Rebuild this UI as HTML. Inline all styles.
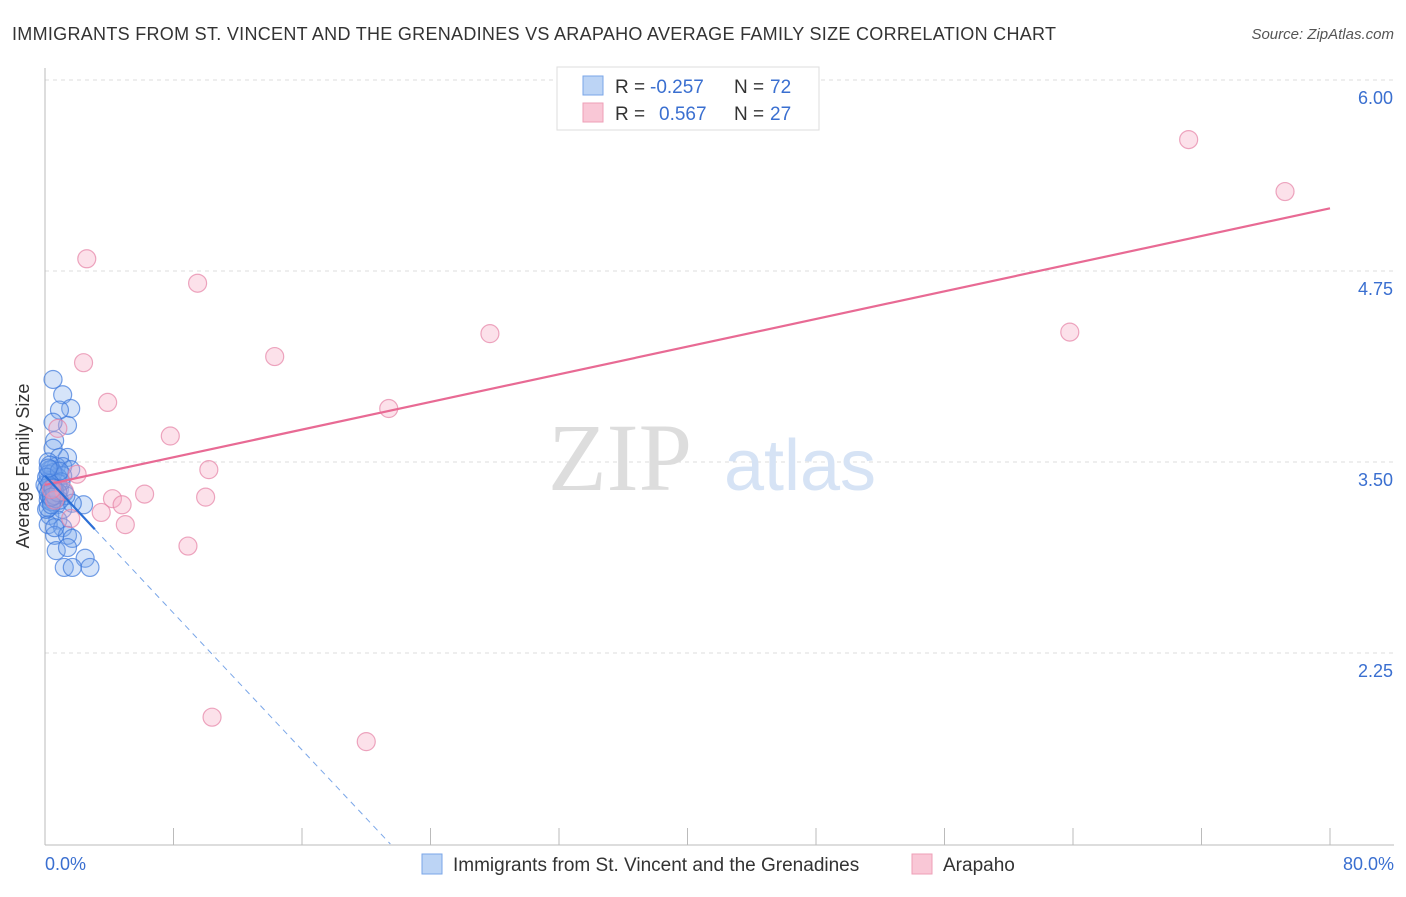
<!DOCTYPE html>
<html><head><meta charset="utf-8"><style>
body{margin:0;background:#fff;font-family:"Liberation Sans",sans-serif}
svg text{font-family:"Liberation Sans",sans-serif}
</style></head><body>
<svg width="1406" height="892">
<text x="12" y="40" font-size="18" fill="#333" textLength="1044">IMMIGRANTS FROM ST. VINCENT AND THE GRENADINES VS ARAPAHO AVERAGE FAMILY SIZE CORRELATION CHART</text>
<text x="1394" y="39" font-size="15" fill="#555" text-anchor="end" font-style="italic">Source: ZipAtlas.com</text>
<g id="grid"></g>
<line x1="45" y1="68" x2="45" y2="845" stroke="#bbb"/>
<line x1="45" y1="845" x2="1394" y2="845" stroke="#bbb"/>
<g id="xticks"></g>
<text x="620" y="490" font-size="96" fill="#ddd" text-anchor="middle" style="font-family:'Liberation Serif',serif">ZIP</text>
<text x="800" y="490" font-size="72" fill="#d6e3f5" text-anchor="middle">atlas</text>
<text x="19" y="456" font-size="18" fill="#333" text-anchor="middle" transform="rotate(-90 29 456)">Average Family Size</text>
<g id="ylabels"></g>
<text x="45" y="870" font-size="18" fill="#3a6fd0">0.0%</text>
<text x="1394" y="870" font-size="18" fill="#3a6fd0" text-anchor="end">80.0%</text>
<g id="pts"></g>
<g id="lines"></g>
<g>
<rect x="557" y="67" width="262" height="63" fill="#fff" stroke="#ddd"/>
<rect x="583" y="76" width="20" height="19" fill="#bcd4f5" stroke="#7aa6e8"/>
<rect x="583" y="103" width="20" height="19" fill="#f9c7d6" stroke="#ee9fb7"/>
<text x="615" y="93" font-size="19" fill="#333">R =</text>
<text x="650" y="93" font-size="19" fill="#3a6fd0">-0.257</text>
<text x="734" y="93" font-size="19" fill="#333">N =</text>
<text x="770" y="93" font-size="19" fill="#3a6fd0">72</text>
<text x="615" y="120" font-size="19" fill="#333">R =</text>
<text x="659" y="120" font-size="19" fill="#3a6fd0">0.567</text>
<text x="734" y="120" font-size="19" fill="#333">N =</text>
<text x="770" y="120" font-size="19" fill="#3a6fd0">27</text>
</g>
<g>
<rect x="422" y="854" width="20" height="20" fill="#bcd4f5" stroke="#7aa6e8"/>
<text x="453" y="871" font-size="19" fill="#333">Immigrants from St. Vincent and the Grenadines</text>
<rect x="912" y="854" width="20" height="20" fill="#f9c7d6" stroke="#ee9fb7"/>
<text x="943" y="871" font-size="19" fill="#333">Arapaho</text>
</g>
</svg>
<script>
const yTicks=[6.00,4.75,3.50,2.25];
const yTickLabels=["6.00","4.75","3.50","2.25"];
const xTicks=[0,8,16,24,32,40,48,56,64,72,80];
const blueX=[0.5,1.1,1.6,0.9,1.4,0.5,0.6,0.5,1.4,0.9,0.7,1.1,1.6,0.2,0.4,0.2,0.6,0.9,0.4,1.2,0.2,0.7,1.1,0.3,0.8,0.2,1.1,0.6,1.4,2.4,1.7,1.7,0.7,1.4,1.2,2.5,2.8,1.7,0.3,0.8,0.0,0.3,1.1,1.3,0.5,0.1,0.6,0.9,0.2,0.4,0.6,0.3,0.1,0.5,0.8,0.2,0.4,1.0,0.3,0.6,0.2,0.5,0.7,0.1,0.9,0.4,0.3,0.6,0.2,0.5,0.8,0.4];
const blueY=[4.04,3.94,3.85,3.84,3.74,3.76,3.64,3.59,3.53,3.53,3.47,3.47,3.45,3.50,3.45,3.38,3.35,3.32,3.28,3.30,3.25,3.22,3.19,3.15,3.12,3.09,3.07,3.02,3.02,3.22,3.23,3.00,2.92,2.94,2.81,2.87,2.81,2.81,3.45,3.40,3.35,3.32,3.41,3.28,3.25,3.19,3.07,3.25,3.42,3.38,3.30,3.27,3.33,3.43,3.36,3.29,3.24,3.37,3.48,3.31,3.20,3.34,3.26,3.40,3.44,3.22,3.36,3.28,3.46,3.33,3.30,3.27];
const pinkX=[71.2,77.2,2.6,9.5,14.3,27.7,63.8,2.4,3.9,21.4,7.8,10.2,2.0,10.0,6.2,4.2,4.8,3.5,5.0,8.9,10.4,20.0,1.6,0.8,1.2,0.6,0.4];
const pinkY=[5.61,5.27,4.83,4.67,4.19,4.34,4.35,4.15,3.89,3.85,3.67,3.45,3.42,3.27,3.29,3.26,3.22,3.17,3.09,2.95,1.83,1.67,3.13,3.72,3.31,3.25,3.32];
const pinkTrend=[[0,3.35],[80,5.16]];
const blueTrend=[[0,3.41],[3.1,3.06],[21.5,1.0]];
const X=v=>45+v*(1285/80), Y=v=>80+(6-v)*152.8;
const NS="http://www.w3.org/2000/svg";
function mk(t,a,p){const e=document.createElementNS(NS,t);for(const k in a)e.setAttribute(k,a[k]);document.getElementById(p).appendChild(e);return e;}
yTicks.forEach((t,i)=>{
 const g=mk('line',{x1:45,x2:1394,y1:Y(t),y2:Y(t),stroke:'#ddd','stroke-dasharray':'4,4'},'grid');
 
 
 const l=mk('text',{x:1393,y:Y(t)+24,'font-size':18,fill:'#3a6fd0','text-anchor':'end'},'ylabels');
 
 
 l.textContent=yTickLabels[i];
});
xTicks.forEach(t=>{
 const l=mk('line',{x1:X(t),x2:X(t),y1:828,y2:845,stroke:'#bbb'},'xticks');
 
 
});
blueX.forEach((x,i)=>{
 const c=mk('circle',{cx:X(x),cy:Y(blueY[i]),r:9,fill:'rgba(120,165,235,0.3)',stroke:'rgba(60,120,220,0.7)','stroke-width':1.2},'pts');
 
 
});
pinkX.forEach((x,i)=>{
 const c=mk('circle',{cx:X(x),cy:Y(pinkY[i]),r:9,fill:'rgba(245,170,195,0.35)',stroke:'rgba(230,130,165,0.7)','stroke-width':1.2},'pts');
 
 
});
const pl=mk('line',{x1:X(pinkTrend[0][0]),y1:Y(pinkTrend[0][1]),x2:X(pinkTrend[1][0]),y2:Y(pinkTrend[1][1]),stroke:'#e86a94','stroke-width':2.2},'lines');


const bl=mk('line',{x1:X(blueTrend[0][0]),y1:Y(blueTrend[0][1]),x2:X(blueTrend[1][0]),y2:Y(blueTrend[1][1]),stroke:'#2c6fd6','stroke-width':2.2},'lines');


const bd=mk('line',{x1:X(blueTrend[1][0]),y1:Y(blueTrend[1][1]),x2:X(blueTrend[2][0]),y2:Y(blueTrend[2][1]),stroke:'#7aa6e8','stroke-width':1,'stroke-dasharray':'6,5'},'lines');


</script>
</body></html>
